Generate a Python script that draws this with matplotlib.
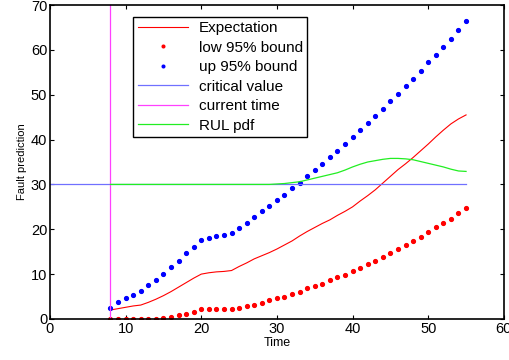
import numpy as np
import matplotlib
matplotlib.use('Agg')
import matplotlib.pyplot as plt

plt.rcParams['font.family'] = ['Liberation Sans', 'DejaVu Sans']

# time steps of the prediction
t = np.arange(8, 56)

expectation = [2.0, 2.3, 2.6, 2.9, 3.1, 3.7, 4.4, 5.2, 6.1, 7.1, 8.1, 9.1,
               10.0, 10.3, 10.5, 10.6, 10.8, 11.7, 12.5, 13.4, 14.1, 14.8,
               15.6, 16.5, 17.4, 18.5, 19.5, 20.4, 21.3, 22.1, 23.1, 24.0,
               25.0, 26.3, 27.5, 28.8, 30.3, 31.8, 33.3, 34.6, 36.0, 37.5,
               39.0, 40.6, 42.1, 43.5, 44.6, 45.5]

low_bound = [0.0, 0.0, 0.0, 0.0, 0.0, 0.0, 0.0, 0.3, 0.5, 0.8, 1.1, 1.6,
             2.2, 2.2, 2.2, 2.2, 2.2, 2.5, 2.8, 3.2, 3.6, 4.2, 4.6, 5.0,
             5.5, 6.1, 6.8, 7.3, 7.9, 8.6, 9.3, 9.9, 10.7, 11.4, 12.3, 13.0,
             13.8, 14.8, 15.6, 16.6, 17.4, 18.3, 19.3, 20.4, 21.3, 22.4,
             23.6, 24.7]

up_bound = [2.5, 3.8, 4.6, 5.4, 6.3, 7.6, 8.7, 10.1, 11.5, 13.0, 14.6, 16.1,
            17.7, 18.1, 18.5, 18.8, 19.2, 20.2, 21.4, 22.7, 24.0, 25.3, 26.5,
            27.7, 29.1, 30.3, 31.8, 33.2, 34.5, 36.1, 37.4, 39.1, 40.5, 42.1,
            43.7, 45.3, 46.9, 48.5, 50.1, 51.9, 53.6, 55.4, 57.2, 58.9, 60.7,
            62.5, 64.4, 66.4]

rul_pdf = [30.0] * 22 + [30.1, 30.2, 30.4, 30.6, 31.0, 31.4, 31.8, 32.2,
                         32.6, 33.2, 33.9, 34.5, 35.0, 35.3, 35.6, 35.8, 35.8,
                         35.7, 35.5, 35.1, 34.7, 34.3, 33.9, 33.4, 33.0, 32.9]

critical_value = 30
current_time = 8

fig = plt.figure(figsize=(5.1, 3.6), dpi=100)
ax = fig.add_axes([0.098, 0.114, 0.89, 0.872])

ax.plot(t, expectation, c='#ff0000', lw=0.8, label='Expectation')
ax.plot(t, low_bound, '.', c='#ff0000', ms=5.5, label='low 95% bound')
ax.plot(t, up_bound, '.', c='#0000ff', ms=5.5, label='up 95% bound')
ax.plot([0, t[-1]], [critical_value, critical_value], c='#7070ff', lw=0.9,
        label='critical value')
ax.plot([current_time, current_time], [0, 70], c='#ff40ff', lw=0.9,
        label='current time')
ax.plot(t, rul_pdf, c='#22ee22', lw=0.9, label='RUL pdf')

ax.set_xlim(0, 60)
ax.set_ylim(0, 70)
ax.set_xticks(np.arange(0, 61, 10))
ax.set_yticks(np.arange(0, 71, 10))
ax.tick_params(direction='in', top=True, right=True, length=3, width=0.8,
               labelsize=10.5, pad=2)
for s in ax.spines.values():
    s.set_linewidth(1.2)
ax.set_xlabel('Time', fontsize=9, labelpad=1)
ax.set_ylabel('Fault prediction', fontsize=8, labelpad=3)

leg = ax.legend(loc='upper left', bbox_to_anchor=(0.183, 0.963), fontsize=11,
                fancybox=False, framealpha=1, edgecolor='black',
                handlelength=3.3, borderpad=0.3, labelspacing=0.36,
                handletextpad=0.7, borderaxespad=0, markerscale=0.7)
leg.get_frame().set_linewidth(1.0)

fig.savefig('out.png', dpi=100)
